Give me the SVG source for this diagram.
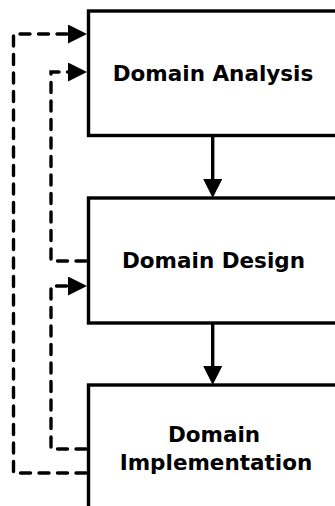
<svg xmlns="http://www.w3.org/2000/svg" width="335" height="506" viewBox="0 0 335 506">
<style>
.box{fill:#fff;stroke:#000;stroke-width:3.4}
.lbl{font-family:"DejaVu Sans",Verdana,sans-serif;font-weight:bold;font-size:21.5px;fill:#000;text-anchor:middle}
.solid{fill:none;stroke:#000;stroke-width:3.4}
.dash{fill:none;stroke:#000;stroke-width:3.4;stroke-dasharray:10 8.5;stroke-linecap:round}
</style>
<defs>
<marker id="ah" markerUnits="userSpaceOnUse" viewBox="0 0 19 19" refX="0" refY="9.5" markerWidth="19" markerHeight="19" orient="auto">
<path d="M0,0 L19,9.5 L0,19 z" fill="#000"/>
</marker>
</defs>
<g id="analysis">
<rect class="box" x="88.5" y="11" width="300" height="124.5"/>
<text class="lbl" x="213" y="81">Domain Analysis</text>
</g>
<g id="design">
<rect class="box" x="88.5" y="198" width="300" height="125"/>
<text class="lbl" x="213.5" y="268">Domain Design</text>
</g>
<g id="implementation">
<rect class="box" x="88.5" y="385" width="300" height="150"/>
<text class="lbl" x="214" y="442">Domain</text>
<text class="lbl" x="216" y="470">Implementation</text>
</g>
<g id="connectors">
<path class="solid" d="M212.7,135.5 V179" marker-end="url(#ah)"/>
<path class="solid" d="M212.7,323 V366" marker-end="url(#ah)"/>
<path class="dash" d="M86,473 H13.5 V34 H68" marker-end="url(#ah)"/>
<path class="dash" d="M86,261 H51 V72 H68" marker-end="url(#ah)"/>
<path class="dash" d="M86,449 H51 V286 H68" marker-end="url(#ah)"/>
</g>
</svg>
